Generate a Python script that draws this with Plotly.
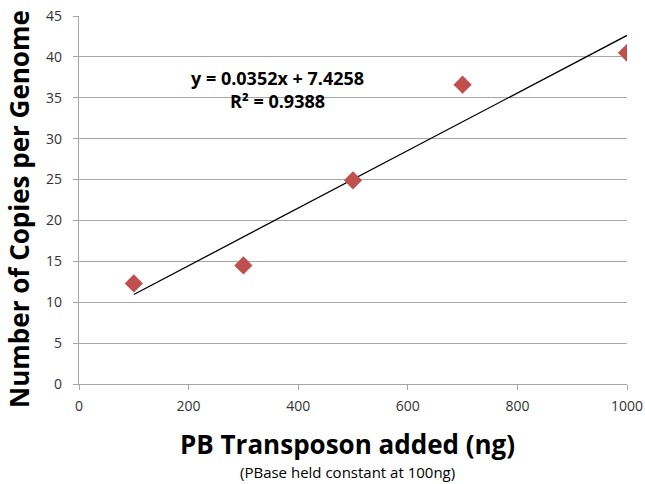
import plotly.graph_objects as go

# Data
pb_transposon_ng = [100, 300, 500, 700, 1000]
copies_per_genome = [12.3, 14.5, 24.9, 36.6, 40.5]
trend_slope = 0.0352
trend_intercept = 7.4258
r_squared = 0.9388
x_ticks = [0, 200, 400, 600, 800, 1000]
y_ticks = [0, 5, 10, 15, 20, 25, 30, 35, 40, 45]

FONT = "Open Sans"
GRID = "#A6A6A6"

trend_x = [min(pb_transposon_ng), max(pb_transposon_ng)]
trend_y = [trend_slope * x + trend_intercept for x in trend_x]

fig = go.Figure()
fig.add_trace(go.Scatter(
    x=trend_x, y=trend_y, mode="lines",
    line=dict(color="black", width=1.3), showlegend=False, hoverinfo="skip"))
fig.add_trace(go.Scatter(
    x=pb_transposon_ng, y=copies_per_genome, mode="markers",
    marker=dict(symbol="diamond", size=14, color="#C0504D", line=dict(width=0)),
    showlegend=False))

fig.add_annotation(
    x=363, y=36, xref="x", yref="y",
    text=f"y = {trend_slope}x + {trend_intercept}<br>R² = {r_squared}",
    showarrow=False, align="center",
    font=dict(family=FONT, size=18, color="black", weight="bold"))

# Axis titles as annotations for precise placement
fig.add_annotation(
    x=-0.11, y=0.475, xref="paper", yref="paper",
    text="Number of Copies per Genome", showarrow=False, textangle=-90,
    xanchor="center", yanchor="middle",
    font=dict(family=FONT, size=26, color="black", weight="bold"))
fig.add_annotation(
    x=0.49, y=-0.163, xref="paper", yref="paper",
    text="PB Transposon added (ng)", showarrow=False,
    xanchor="center", yanchor="middle",
    font=dict(family=FONT, size=26, color="black", weight="bold"))
fig.add_annotation(
    x=0.49, y=-0.2395, xref="paper", yref="paper",
    text="(PBase held constant at 100ng)", showarrow=False,
    xanchor="center", yanchor="middle",
    font=dict(family=FONT, size=15, color="black"))

fig.update_layout(
    width=645, height=484,
    margin=dict(l=79, r=18, t=16, b=100),
    paper_bgcolor="white", plot_bgcolor="white",
    font=dict(family=FONT, color="#333333"),
    xaxis=dict(
        range=[0, 1000], tickvals=x_ticks, showgrid=False, zeroline=False,
        showline=True, linecolor=GRID, linewidth=1.3, automargin=False,
        ticks="outside", ticklen=5, tickcolor=GRID, ticklabelstandoff=4,
        tickfont=dict(size=14, color="#333333")),
    yaxis=dict(
        range=[0, 45], tickvals=y_ticks, showgrid=True, gridcolor=GRID, gridwidth=1.3,
        zeroline=False, showline=True, linecolor=GRID, linewidth=1.3, automargin=False,
        ticks="outside", ticklen=5, tickcolor=GRID, ticklabelstandoff=8,
        tickfont=dict(size=14, color="#333333")),
)

fig.write_html("out.html", config={"displayModeBar": False},
               post_script="document.body.style.margin='0';")
